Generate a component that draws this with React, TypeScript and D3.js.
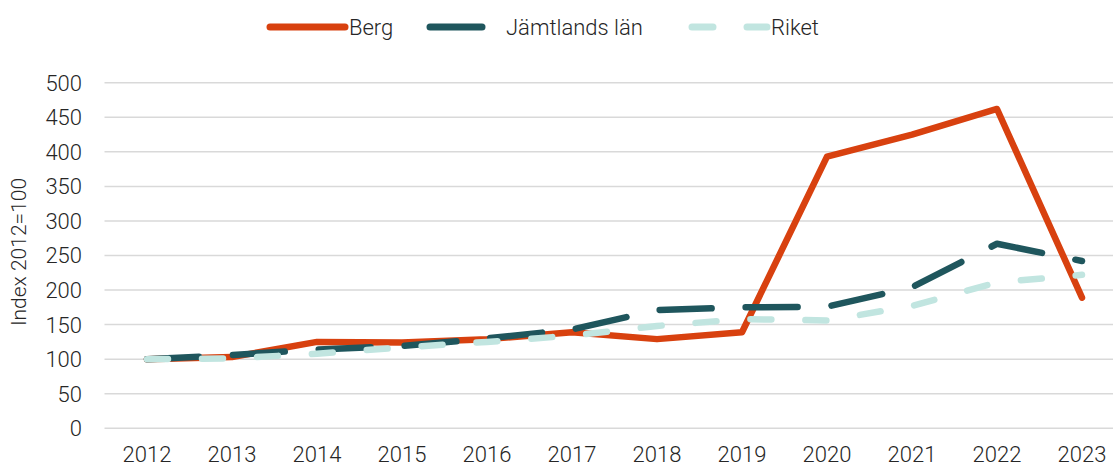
import React from 'react';
import * as d3 from 'd3';

const years = ['2012', '2013', '2014', '2015', '2016', '2017', '2018', '2019', '2020', '2021', '2022', '2023'];
const berg = [100, 103, 125, 124, 129, 139, 129, 139, 393, 425, 462, 189];
const jamtland = [100, 106, 114, 119, 130, 143, 171, 175, 176, 204, 267, 242];
const riket = [100, 101, 108, 117, 125, 134, 148, 158, 156, 177, 211, 222];
const yTicks = [0, 50, 100, 150, 200, 250, 300, 350, 400, 450, 500];

const series = [
    { name: 'Berg', values: berg, color: '#d8410f', dash: '', legendX: 270, textX: 349 },
    { name: 'Jämtlands län', values: jamtland, color: '#1f565d', dash: '52 34', legendX: 430, textX: 506 },
    { name: 'Riket', values: riket, color: '#c1e5e0', dash: '21 34', legendX: 692, textX: 771 },
];

const W = 1113;
const H = 468;
const font = 'Roboto, Lato, sans-serif';
const textColor = '#262626';

const App = () => {
    // skalor
    const x = d3.scaleBand().domain(years).range([104.5, 1124.5]).paddingInner(0).paddingOuter(0);
    const y = d3.scaleLinear().domain([0, 500]).range([428.3, 82.7]);
    const cx = (d: string) => (x(d) ?? 0) + x.bandwidth() / 2;

    const line = d3.line<number>()
        .x((_, i) => cx(years[i]))
        .y(d => y(d));

    return (
        <svg width={W} height={H} style={{ position: 'absolute', left: 0, top: 0, background: '#fff' }}
             fontFamily={font} fontWeight={300}>
            {/* rutnät */}
            {yTicks.map(t => (
                <g key={t}>
                    <line x1={104.5} x2={W} y1={y(t)} y2={y(t)} stroke="#d9d9d9" strokeWidth={1.5} />
                    <text x={82} y={y(t)} dy="0.36em" textAnchor="end" fontSize={22} fill={textColor}>{t}</text>
                </g>
            ))}
            {years.map(yr => (
                <text key={yr} x={cx(yr)} y={462} textAnchor="middle" fontSize={22} fill={textColor}>{yr}</text>
            ))}
            <text transform={`translate(26,${252}) rotate(-90)`} textAnchor="middle" fontSize={21} fill={textColor}>
                Index 2012=100
            </text>

            {/* linjer */}
            {series.map(s => (
                <path key={s.name} d={line(s.values) ?? ''} fill="none" stroke={s.color} strokeWidth={6.5}
                      strokeDasharray={s.dash || undefined} strokeLinecap="round" strokeLinejoin="round" />
            ))}

            {/* legend */}
            {series.map(s => (
                <g key={s.name}>
                    <line x1={s.legendX} x2={s.legendX + 75} y1={27} y2={27} stroke={s.color} strokeWidth={7}
                          strokeDasharray={s.dash || undefined} strokeLinecap="round" />
                    <text x={s.textX} y={27} dy="0.36em" fontSize={22} fill={textColor}>{s.name}</text>
                </g>
            ))}
        </svg>
    );
};

export default App;
